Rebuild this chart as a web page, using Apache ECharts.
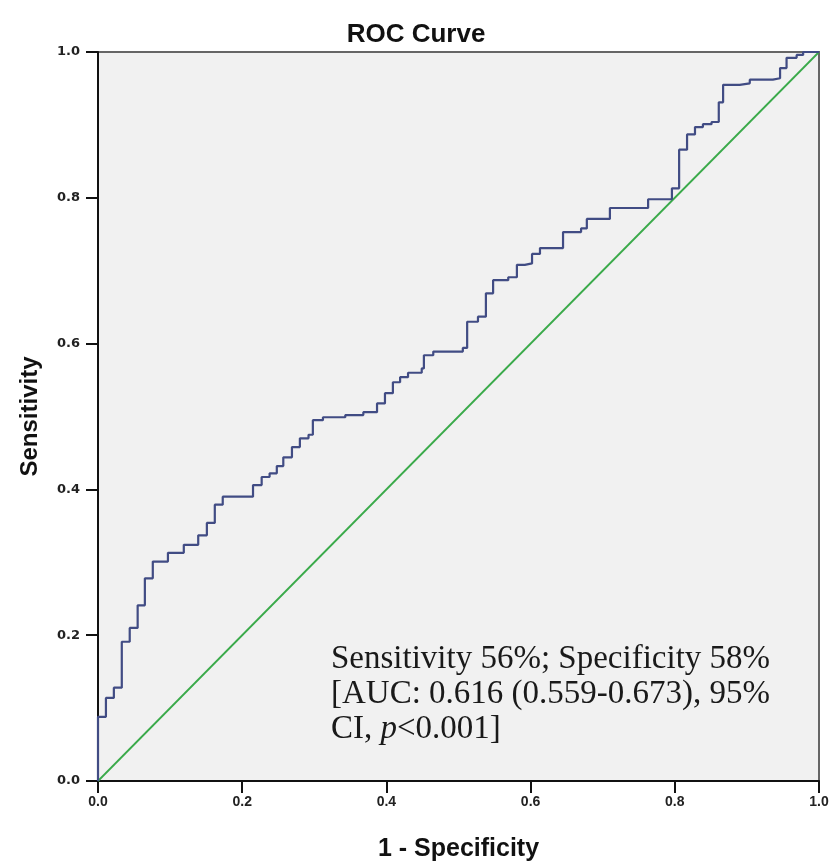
<!DOCTYPE html>
<html>
<head>
<meta charset="utf-8">
<title>ROC Curve</title>
<script src="https://cdn.jsdelivr.net/npm/echarts@6/dist/echarts.min.js"></script>
<style>
  html, body { margin: 0; padding: 0; background: #fff; }
  #main { width: 832px; height: 868px; }
</style>
</head>
<body>
<div id="main"></div>
<script>
// 1 - specificity at each step (curve goes across, then up)
var fpr = [0, 0, 0.011, 0.022, 0.033, 0.044, 0.055, 0.065, 0.076, 0.097, 0.119, 0.139, 0.151, 0.162, 0.173,
  0.215, 0.227, 0.238, 0.248, 0.257, 0.269, 0.28, 0.292, 0.298, 0.312, 0.343, 0.368, 0.387, 0.398, 0.409,
  0.419, 0.43, 0.449, 0.452, 0.465, 0.506, 0.512, 0.527, 0.538, 0.548, 0.569, 0.581, 0.592, 0.602, 0.613,
  0.645, 0.67, 0.678, 0.71, 0.763, 0.796, 0.806, 0.817, 0.828, 0.839, 0.851, 0.861, 0.867, 0.89, 0.904,
  0.936, 0.946, 0.955, 0.969, 0.978, 1.0];
// sensitivity reached after each step
var tpr = [0, 0.088, 0.114, 0.128, 0.191, 0.21, 0.241, 0.278, 0.301, 0.313, 0.324, 0.337, 0.354, 0.379, 0.39,
  0.406, 0.417, 0.422, 0.432, 0.444, 0.458, 0.47, 0.475, 0.495, 0.499, 0.502, 0.506, 0.518, 0.532, 0.547,
  0.554, 0.56, 0.566, 0.584, 0.589, 0.594, 0.63, 0.637, 0.669, 0.687, 0.691, 0.708, 0.71, 0.723, 0.731,
  0.753, 0.758, 0.771, 0.786, 0.798, 0.813, 0.866, 0.887, 0.897, 0.901, 0.904, 0.931, 0.955, 0.957, 0.962,
  0.964, 0.978, 0.992, 0.996, 1.0, 1.0];
var refX = [0, 1];
var refY = [0, 1];
var tickLabels = ['0.0', '0.2', '0.4', '0.6', '0.8', '1.0'];

var rocData = [];
for (var i = 0; i < fpr.length; i++) {
  rocData.push([fpr[i], tpr[i]]);
}
var refData = [];
for (var j = 0; j < refX.length; j++) {
  refData.push([refX[j], refY[j]]);
}

function fmt(v) {
  var idx = Math.round(v * 5);
  return tickLabels[idx] || '';
}

var chart = echarts.init(document.getElementById('main'), null, { renderer: 'canvas' });

var axisCommon = {
  type: 'value',
  min: 0,
  max: 1,
  interval: 0.2,
  nameLocation: 'middle',
  nameTextStyle: {
    fontFamily: 'Liberation Sans',
    fontWeight: 'bold',
    fontSize: 24,
    color: '#111'
  },
  axisLine: { show: true, lineStyle: { color: '#111', width: 2 } },
  axisTick: { show: true, inside: false, length: 12, lineStyle: { color: '#111', width: 2 } },
  splitLine: { show: false },
  axisLabel: {
    formatter: fmt,
    fontFamily: 'DejaVu Sans',
    fontWeight: 'bold',
    fontSize: 13,
    color: '#222'
  }
};

var option = {
  backgroundColor: '#fff',
  animation: false,
  title: {
    text: 'ROC Curve',
    left: 'center',
    top: 17,
    textStyle: {
      fontFamily: 'Liberation Sans',
      fontWeight: 'bold',
      fontSize: 26,
      color: '#111'
    }
  },
  grid: {
    left: 98,
    right: 13,
    top: 52,
    bottom: 87,
    show: true,
    backgroundColor: '#f1f1f1',
    borderColor: '#666',
    borderWidth: 2
  },
  xAxis: echarts.util.merge({
    name: '1 - Specificity',
    nameGap: 56,
    nameTextStyle: { fontSize: 25 },
    axisLabel: { margin: 14, fontFamily: 'Liberation Sans', fontSize: 14 }
  }, axisCommon),
  yAxis: echarts.util.merge({
    name: 'Sensitivity',
    nameGap: 56,
    axisLabel: { margin: 18 }
  }, axisCommon),
  series: [
    {
      name: 'Reference',
      type: 'line',
      data: refData,
      symbol: 'none',
      silent: true,
      lineStyle: { color: '#3aaa4a', width: 1.8 }
    },
    {
      name: 'ROC',
      type: 'line',
      step: 'end',
      data: rocData,
      symbol: 'none',
      silent: true,
      lineStyle: { color: '#414c84', width: 2.2 }
    }
  ],
  graphic: [
    {
      type: 'text',
      left: 331,
      top: 643,
      style: {
        text: '{n|Sensitivity 56%; Specificity 58%}\n{n|[AUC: 0.616 (0.559-0.673), 95%}\n{n|CI, }{i|p}{n|<0.001]}',
        rich: {
          n: { fontFamily: 'Liberation Serif', fontSize: 33, lineHeight: 35, fill: '#1a1a1a' },
          i: { fontFamily: 'Liberation Serif', fontStyle: 'italic', fontSize: 33, lineHeight: 35, fill: '#1a1a1a' }
        }
      }
    }
  ]
};

chart.setOption(option);
</script>
</body>
</html>
